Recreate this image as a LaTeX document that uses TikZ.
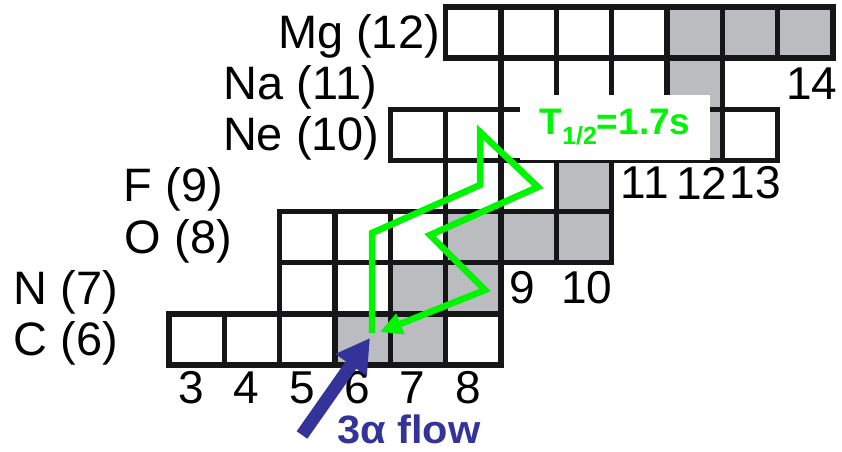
\documentclass[tikz,border=0pt]{standalone}
\usepackage{fontspec}
\setmainfont{Liberation Sans}
\newfontfamily\labfont{Liberation Sans}
\newfontfamily\flowfont[FakeStretch=1.05]{Liberation Sans}
\usetikzlibrary{arrows.meta}
\definecolor{gridline}{RGB}{22,22,24}
\definecolor{stable}{RGB}{187,188,192}
\definecolor{flowgreen}{RGB}{0,245,0}
\definecolor{alphablue}{RGB}{51,51,153}

\begin{document}
\begin{tikzpicture}[
  u/.style={draw=gridline, fill=white, line width=0.11cm, minimum width=\cw cm, minimum height=\rh cm, inner sep=0pt},
  g/.style={u, fill=stable},
  el/.style={font=\labfont\fontsize{26.7}{31}\selectfont, anchor=base east, inner sep=0pt},
  num/.style={font=\labfont\fontsize{26.2}{31}\selectfont, inner sep=0pt}
]
% ---- reusable shorthand ----
\def\cw{1.1066} % column step (one neutron)
\def\rh{1.0228} % row step (one proton)

\useasboundingbox (0,0) rectangle (16.84,-9.02);

% ===== CHART  (origin = centre of the N=3, Mg row cell) =====
\begin{scope}[xshift=3.934cm, yshift=-0.652cm]
% Mg (12)
\node[u] (Mg8) at (\cw*5,-\rh*0){};\node[u] (Mg9) at (\cw*6,-\rh*0){};\node[u] (Mg10) at (\cw*7,-\rh*0){};\node[u] (Mg11) at (\cw*8,-\rh*0){};\node[g] (Mg12) at (\cw*9,-\rh*0){};\node[g] (Mg13) at (\cw*10,-\rh*0){};\node[g] (Mg14) at (\cw*11,-\rh*0){};
% Na (11)
\node[u] (Na9) at (\cw*6,-\rh*1){};\node[u] (Na10) at (\cw*7,-\rh*1){};\node[u] (Na11) at (\cw*8,-\rh*1){};\node[g] (Na12) at (\cw*9,-\rh*1){};
% Ne (10)
\node[u] (Ne7) at (\cw*4,-\rh*2){};\node[u] (Ne8) at (\cw*5,-\rh*2){};\node[u] (Ne9) at (\cw*6,-\rh*2){};\node[g] (Ne10) at (\cw*7,-\rh*2){};\node[g] (Ne11) at (\cw*8,-\rh*2){};\node[g] (Ne12) at (\cw*9,-\rh*2){};\node[u] (Ne13) at (\cw*10,-\rh*2){};
% F (9)
\node[u] (F8) at (\cw*5,-\rh*3){};\node[u] (F9) at (\cw*6,-\rh*3){};\node[g] (F10) at (\cw*7,-\rh*3){};
% O (8)
\node[u] (O5) at (\cw*2,-\rh*4){};\node[u] (O6) at (\cw*3,-\rh*4){};\node[u] (O7) at (\cw*4,-\rh*4){};\node[g] (O8) at (\cw*5,-\rh*4){};\node[g] (O9) at (\cw*6,-\rh*4){};\node[g] (O10) at (\cw*7,-\rh*4){};
% N (7)
\node[u] (N5) at (\cw*2,-\rh*5){};\node[u] (N6) at (\cw*3,-\rh*5){};\node[g] (N7) at (\cw*4,-\rh*5){};\node[g] (N8) at (\cw*5,-\rh*5){};
% C (6)
\node[u] (C3) at (\cw*0,-\rh*6){};\node[u] (C4) at (\cw*1,-\rh*6){};\node[u] (C5) at (\cw*2,-\rh*6){};\node[g] (C6) at (\cw*3,-\rh*6){};\node[g] (C7) at (\cw*4,-\rh*6){};\node[u] (C8) at (\cw*5,-\rh*6){};

% element names
\node[el] (lMg) at (\cw*4.40,-\rh*0.31){Mg (12)};
\node[el] (lNa) at (\cw*3.26,-\rh*1.31){Na (11)};
\node[el] (lNe) at (\cw*3.31,-\rh*2.31){Ne (10)};
\node[el] (lF)  at (\cw*0.48,-\rh*3.31){F (9)};
\node[el] (lO)  at (\cw*0.64,-\rh*4.31){O (8)};
\node[el] (lN)  at (\cw*-1.42,-\rh*5.31){N (7)};
\node[el] (lC)  at (\cw*-1.42,-\rh*6.31){C (6)};

% neutron numbers
\node[num] (n3) at (\cw*-0.1,-\rh*6.94){3};\node[num] (n4) at (\cw*0.9,-\rh*6.94){4};\node[num] (n5) at (\cw*1.9,-\rh*6.94){5};
\node[num] (n6) at (\cw*2.9,-\rh*6.94){6};\node[num] (n7) at (\cw*3.9,-\rh*6.94){7};\node[num] (n8) at (\cw*4.9,-\rh*6.94){8};
\node[num] (n9) at (\cw*5.88,-\rh*4.99){9};\node[num] (n10) at (\cw*7.05,-\rh*4.99){10};
\node[num] (n11) at (\cw*8.1,-\rh*2.94){11};\node[num] (n12) at (\cw*9.13,-\rh*2.94){12};\node[num] (n13) at (\cw*10.1,-\rh*2.94){13};
\node[num] (n14) at (\cw*11.12,-\rh*0.99){14};
\end{scope}

% half-life tag
\node[fill=white, minimum width=3.8cm, minimum height=1.3cm, inner sep=0pt, text=flowgreen, font=\labfont\bfseries\fontsize{21}{24}\selectfont] (thalf) at (12.30,-2.55)
  {T\raisebox{-5.7pt}{\fontsize{14.2}{15}\selectfont 1/2}=1.7s};

% breakout path
\coordinate (gs) at (7.44,-6.66);
\coordinate (ge) at (7.60,-6.64);
\draw[flowgreen, line width=0.13cm, -{Triangle[length=0.44cm,width=0.42cm]}]
  (gs) -- (7.44,-4.66) -- (9.60,-3.70) -- (9.60,-2.64) -- (10.76,-3.74) -- (8.60,-4.70) -- (9.70,-5.80) -- (ge);

% 3 alpha entry
\coordinate (atail) at (6.04,-8.70);
\coordinate (atip) at (7.40,-6.76);
\draw[alphablue, line width=0.26cm, -{Triangle[length=0.66cm,width=0.72cm]}] (atail) -- (atip);
\node[text=alphablue, font=\flowfont\bfseries\fontsize{22.5}{26}\selectfont, anchor=base west, inner sep=0pt] (flow) at (6.74,-8.86) {3α flow};

\end{tikzpicture}
\end{document}
